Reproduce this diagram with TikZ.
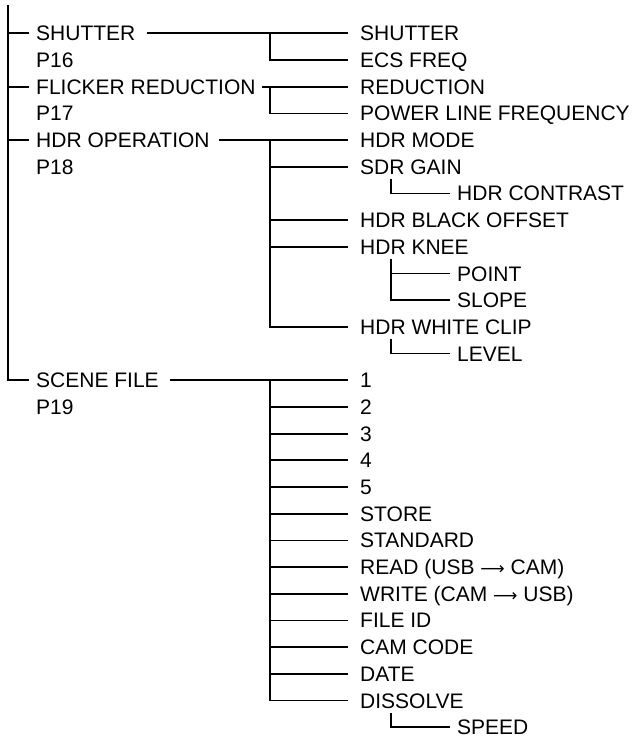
\documentclass[tikz,border=0pt]{standalone}
\usepackage{fontspec}
\setmainfont{Liberation Sans}
\newfontfamily\arrowfont{DejaVu Sans}
\newcommand\longarr{{\arrowfont\fontsize{17pt}{20pt}\selectfont ⟶}}
\begin{document}
\begin{tikzpicture}[x=1pt,y=-26.69pt,
  lbl/.style={anchor=base west,inner sep=0pt,yshift=-7.5pt,font=\fontsize{21pt}{25pt}\selectfont},
  ln/.style={line width=1.7pt,line cap=butt,line join=miter}]
\useasboundingbox (0pt,0pt) rectangle (634pt,-741pt);
\begin{scope}[yshift=-33.3pt]
% level 1 texts
\node[lbl] (shutter) at (36,0) {SHUTTER};
\node[lbl] (p16) at (36,1) {P16};
\node[lbl] (flicker) at (36,2) {FLICKER REDUCTION};
\node[lbl] (p17) at (36,3) {P17};
\node[lbl] (hdrop) at (36,4) {HDR OPERATION};
\node[lbl] (p18) at (36,5) {P18};
\node[lbl] (scene) at (36,13) {SCENE FILE};
\node[lbl] (p19) at (36,14) {P19};
% level 2 texts
\node[lbl] (s1) at (360,0) {SHUTTER};
\node[lbl] (s2) at (360,1) {ECS FREQ};
\node[lbl] (f1) at (360,2) {REDUCTION};
\node[lbl] (f2) at (360,3) {POWER LINE FREQUENCY};
\node[lbl] (h1) at (360,4) {HDR MODE};
\node[lbl] (h2) at (360,5) {SDR GAIN};
\node[lbl] (h2a) at (457,6) {HDR CONTRAST};
\node[lbl] (h3) at (360,7) {HDR BLACK OFFSET};
\node[lbl] (h4) at (360,8) {HDR KNEE};
\node[lbl] (h4a) at (457,9) {POINT};
\node[lbl] (h4b) at (457,10) {SLOPE};
\node[lbl] (h5) at (360,11) {HDR WHITE CLIP};
\node[lbl] (h5a) at (457,12) {LEVEL};
\node[lbl] (c1) at (360,13) {1};
\node[lbl] (c2) at (360,14) {2};
\node[lbl] (c3) at (360,15) {3};
\node[lbl] (c4) at (360,16) {4};
\node[lbl] (c5) at (360,17) {5};
\node[lbl] (c6) at (360,18) {STORE};
\node[lbl] (c7) at (360,19) {STANDARD};
\node[lbl] (c8) at (360,20) {READ (USB \longarr{} CAM)};
\node[lbl] (c9) at (360,21) {WRITE (CAM \longarr{} USB)};
\node[lbl] (c10) at (360,22) {FILE ID};
\node[lbl] (c11) at (360,23) {CAM CODE};
\node[lbl] (c12) at (360,24) {DATE};
\node[lbl] (c13) at (360,25) {DISSOLVE};
\node[lbl] (c13a) at (457,26) {SPEED};
% main trunk
\coordinate (top) at (8,-1.06);
\draw[ln] (top) -- (8,13) -- (29,13);
\foreach \r in {0,2,4} \draw[ln] (8,\r) -- (29,\r);
% level 1 to level 2
\draw[ln] (147,0) -- (348,0);
\draw[ln] (270,0) |- (348,1);
\draw[ln] (262,2) -- (348,2);
\draw[ln] (270,2) |- (348,3);
\draw[ln] (219,4) -- (348,4);
\draw[ln] (270,4) |- (348,11);
\foreach \r in {5,7,8} \draw[ln] (270,\r) -- (348,\r);
\draw[ln] (170,13) -- (348,13);
\draw[ln] (270,13) |- (348,25);
\foreach \r in {14,...,24} \draw[ln] (270,\r) -- (348,\r);
% level 3
\draw[ln] (391,5.45) |- (450,6);
\draw[ln] (391,8.45) |- (450,10);
\draw[ln] (391,9) -- (450,9);
\draw[ln] (391,11.45) |- (450,12);
\draw[ln] (391,25.45) |- (450,26);
\end{scope}
\end{tikzpicture}
\end{document}
